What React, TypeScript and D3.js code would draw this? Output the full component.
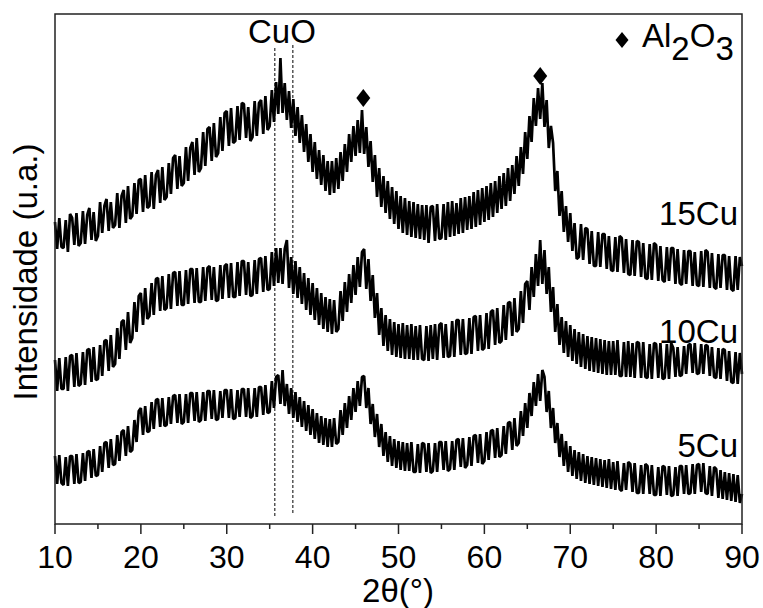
import React from "react";
import * as d3 from "d3";

// 2θ sampling of the patterns
const thetaStart = 10;
const thetaStep = 0.25;

// stacked intensities (a.u.), one value per 0.25° from 10° to 90°
const cu15 = [
  302, 275, 306, 277, 276, 304, 272, 310, 306, 279, 311, 278, 281, 313, 280, 309,
  316, 284, 312, 283, 288, 322, 291, 318, 325, 293, 322, 296, 299, 331, 296, 328,
  334, 301, 338, 305, 308, 341, 310, 344, 345, 312, 349, 316, 318, 352, 315, 349,
  354, 321, 357, 324, 327, 361, 330, 366, 369, 335, 368, 338, 341, 377, 343, 376,
  382, 349, 386, 352, 356, 392, 358, 395, 397, 363, 401, 367, 371, 407, 373, 411,
  413, 378, 416, 381, 383, 418, 384, 421, 420, 386, 417, 383, 387, 423, 388, 421,
  424, 390, 428, 394, 398, 434, 402, 442, 410, 466, 411, 441, 404, 433, 396, 425,
  388, 417, 381, 409, 372, 400, 362, 390, 352, 382, 345, 374, 339, 369, 333, 363,
  329, 363, 331, 366, 335, 372, 343, 380, 352, 390, 362, 398, 368, 404, 371, 414,
  370, 397, 357, 383, 342, 369, 327, 356, 317, 348, 311, 343, 305, 337, 300, 333,
  295, 328, 291, 326, 289, 323, 287, 322, 286, 320, 285, 319, 284, 319, 281, 317,
  318, 283, 320, 285, 286, 320, 284, 322, 287, 323, 288, 321, 290, 326, 291, 327,
  294, 328, 295, 332, 297, 334, 299, 336, 302, 338, 304, 341, 307, 343, 311, 348,
  315, 351, 318, 356, 323, 359, 330, 368, 338, 377, 350, 392, 365, 408, 382, 426,
  398, 436, 405, 441, 397, 424, 376, 398, 381, 333, 353, 308, 333, 292, 318, 282,
  311, 273, 301, 265, 267, 300, 264, 296, 295, 260, 293, 258, 258, 292, 257, 290,
  290, 255, 288, 254, 253, 287, 252, 288, 286, 251, 285, 250, 249, 284, 248, 283,
  282, 247, 281, 246, 245, 280, 244, 281, 279, 243, 278, 244, 242, 277, 243, 276,
  276, 240, 275, 241, 239, 274, 240, 273, 273, 238, 272, 239, 238, 273, 237, 274,
  272, 236, 271, 237, 235, 270, 236, 269, 269, 234, 268, 235, 233, 268, 234, 267,
  258,
];

const cu10 = [
  164, 133, 166, 135, 135, 167, 133, 168, 169, 137, 171, 138, 140, 172, 139, 174,
  175, 142, 177, 144, 145, 179, 148, 183, 184, 153, 189, 157, 160, 196, 165, 202,
  204, 174, 212, 181, 186, 222, 192, 228, 231, 199, 236, 205, 208, 241, 209, 245,
  246, 213, 248, 214, 216, 250, 215, 251, 252, 218, 253, 219, 219, 254, 220, 255,
  255, 221, 256, 222, 222, 257, 223, 256, 258, 224, 257, 223, 224, 259, 225, 258,
  260, 226, 261, 227, 227, 262, 228, 263, 263, 229, 262, 228, 229, 264, 230, 265,
  266, 232, 268, 234, 235, 272, 238, 276, 241, 276, 240, 275, 284, 236, 267, 230,
  263, 226, 257, 220, 251, 214, 246, 209, 241, 204, 236, 199, 231, 195, 227, 192,
  225, 190, 224, 192, 195, 233, 203, 242, 212, 250, 221, 259, 229, 267, 237, 272,
  275, 235, 265, 223, 249, 206, 231, 189, 216, 178, 209, 173, 205, 169, 202, 167,
  200, 166, 201, 165, 199, 165, 200, 164, 198, 164, 199, 165, 164, 198, 163, 199,
  165, 200, 164, 199, 201, 166, 200, 167, 168, 203, 167, 204, 204, 169, 205, 170,
  171, 206, 170, 207, 208, 173, 209, 174, 176, 211, 175, 212, 214, 179, 216, 181,
  183, 219, 184, 221, 222, 188, 226, 192, 195, 233, 201, 240, 243, 214, 257, 227,
  270, 238, 284, 240, 274, 230, 257, 212, 237, 192, 220, 179, 207, 171, 203, 167,
  199, 163, 195, 160, 192, 157, 190, 155, 188, 153, 187, 152, 186, 151, 185, 150,
  184, 149, 183, 149, 183, 149, 184, 148, 148, 182, 147, 183, 147, 181, 146, 182,
  181, 146, 182, 147, 146, 180, 145, 181, 180, 146, 181, 145, 146, 180, 145, 181,
  176, 147, 177, 148, 149, 178, 150, 179, 180, 151, 181, 150, 151, 180, 150, 179,
  178, 148, 177, 147, 146, 176, 145, 175, 174, 143, 173, 142, 141, 172, 140, 171,
  150,
];

const cu5 = [
  68, 40, 69, 41, 39, 67, 38, 68, 68, 40, 70, 41, 42, 71, 43, 72,
  73, 46, 75, 48, 49, 78, 52, 81, 82, 56, 85, 59, 60, 89, 63, 92,
  94, 68, 98, 72, 74, 104, 82, 113, 116, 89, 118, 92, 93, 122, 95, 124,
  125, 97, 126, 98, 99, 127, 100, 128, 129, 101, 130, 100, 102, 130, 101, 131,
  131, 103, 132, 102, 104, 132, 103, 133, 133, 105, 134, 104, 105, 133, 106, 134,
  134, 106, 135, 105, 106, 134, 107, 135, 135, 107, 136, 106, 108, 136, 107, 137,
  137, 109, 139, 111, 112, 143, 116, 147, 149, 120, 154, 118, 140, 110, 136, 106,
  132, 102, 127, 97, 123, 93, 119, 89, 115, 85, 111, 81, 108, 79, 106, 77,
  105, 77, 106, 80, 82, 114, 89, 121, 96, 128, 104, 136, 112, 143, 118, 147,
  148, 116, 136, 100, 120, 87, 110, 77, 100, 68, 92, 62, 88, 58, 85, 56,
  83, 54, 82, 53, 81, 53, 82, 52, 52, 80, 51, 81, 80, 52, 81, 51,
  53, 81, 52, 82, 82, 54, 83, 53, 55, 83, 54, 84, 85, 57, 86, 56,
  59, 87, 58, 88, 89, 61, 90, 60, 63, 92, 64, 93, 94, 66, 96, 67,
  69, 98, 70, 101, 102, 74, 106, 78, 81, 113, 88, 121, 96, 131, 108, 142,
  118, 150, 123, 154, 147, 112, 133, 96, 116, 81, 101, 67, 90, 58, 83, 52,
  78, 48, 74, 45, 72, 43, 70, 41, 68, 40, 67, 39, 66, 38, 65, 37,
  64, 36, 65, 35, 62, 34, 63, 35, 33, 61, 34, 62, 60, 32, 61, 31,
  31, 59, 30, 60, 58, 30, 59, 29, 29, 57, 28, 58, 57, 29, 58, 28,
  29, 57, 28, 58, 58, 30, 59, 30, 31, 60, 30, 59, 60, 32, 61, 31,
  30, 58, 28, 57, 55, 26, 54, 25, 52, 24, 51, 23, 50, 22, 49, 21,
  30,
];

const seriesNames = ["15Cu", "10Cu", "5Cu"];
const seriesLabelLevels = [299, 181, 67];

const majorTicks = [10, 20, 30, 40, 50, 60, 70, 80, 90];
const minorTicks = [15, 25, 35, 45, 55, 65, 75, 85];

// CuO reference positions (dashed lines)
const cuoPositions = [35.6, 37.7];
const cuoTops = [476, 479];
const cuoBottoms = [6, 9];

// Al2O3 peaks marked with diamonds
const al2o3Peaks = [45.9, 66.5];
const al2o3Levels = [426, 448];

const W = 763;
const H = 608;
const margin = { top: 14, right: 21, bottom: 84, left: 55 };
const font = "'Liberation Sans', Arial, sans-serif";

const diamond = "M0,-9L7,0L0,9L-7,0Z";

const App = () => {
  const x = d3.scaleLinear().domain([10, 90]).range([margin.left, W - margin.right]);
  const y = d3.scaleLinear().domain([0, 510]).range([H - margin.bottom, margin.top]);

  const line = d3
    .line<number>()
    .x((d, i) => x(thetaStart + i * thetaStep))
    .y((d) => y(d));

  const series = [cu15, cu10, cu5];
  const bottom = H - margin.bottom;

  return (
    <svg
      width={W}
      height={H}
      style={{ position: "absolute", left: 0, top: 0, background: "#fff" }}
    >
      {series.map((s, i) => (
        <path
          key={seriesNames[i]}
          d={line(s) || ""}
          fill="none"
          stroke="#000"
          strokeWidth={2.7}
          strokeLinejoin="bevel"
        />
      ))}

      {cuoPositions.map((p, i) => (
        <line
          key={p}
          x1={x(p)}
          x2={x(p)}
          y1={y(cuoTops[i])}
          y2={y(cuoBottoms[i])}
          stroke="#000"
          strokeWidth={1}
          strokeDasharray="3,2"
        />
      ))}

      {al2o3Peaks.map((p, i) => (
        <path key={p} d={diamond} transform={`translate(${x(p)},${y(al2o3Levels[i])})`} fill="#000" />
      ))}

      <rect
        x={margin.left}
        y={margin.top}
        width={W - margin.left - margin.right}
        height={H - margin.top - margin.bottom}
        fill="none"
        stroke="#222"
        strokeWidth={1.5}
      />

      {majorTicks.map((t) => (
        <g key={t}>
          <line x1={x(t)} x2={x(t)} y1={bottom} y2={bottom + 10} stroke="#222" strokeWidth={1.5} />
          <text x={x(t)} y={bottom + 44} textAnchor="middle" fontFamily={font} fontSize={32}>
            {t}
          </text>
        </g>
      ))}
      {minorTicks.map((t) => (
        <line key={t} x1={x(t)} x2={x(t)} y1={bottom} y2={bottom + 5} stroke="#222" strokeWidth={1.5} />
      ))}

      <text x={398} y={602} textAnchor="middle" fontFamily={font} fontSize={33}>
        2θ(°)
      </text>
      <text
        transform={`translate(37,272) rotate(-90)`}
        textAnchor="middle"
        fontFamily={font}
        fontSize={33}
      >
        Intensidade (u.a.)
      </text>

      {seriesNames.map((n, i) => (
        <text
          key={n}
          x={x(90) - 4}
          y={y(seriesLabelLevels[i])}
          textAnchor="end"
          fontFamily={font}
          fontSize={33}
        >
          {n}
        </text>
      ))}

      <text x={248} y={43} fontFamily={font} fontSize={33}>
        CuO
      </text>

      <path d="M0,-8L6.5,0L0,8L-6.5,0Z" transform="translate(622,40)" fill="#000" />
      <text x={642} y={47} fontFamily={font} fontSize={33}>
        Al
        <tspan dy={13}>2</tspan>
        <tspan dy={-13}>O</tspan>
        <tspan dy={13}>3</tspan>
      </text>
    </svg>
  );
};

export default App;
